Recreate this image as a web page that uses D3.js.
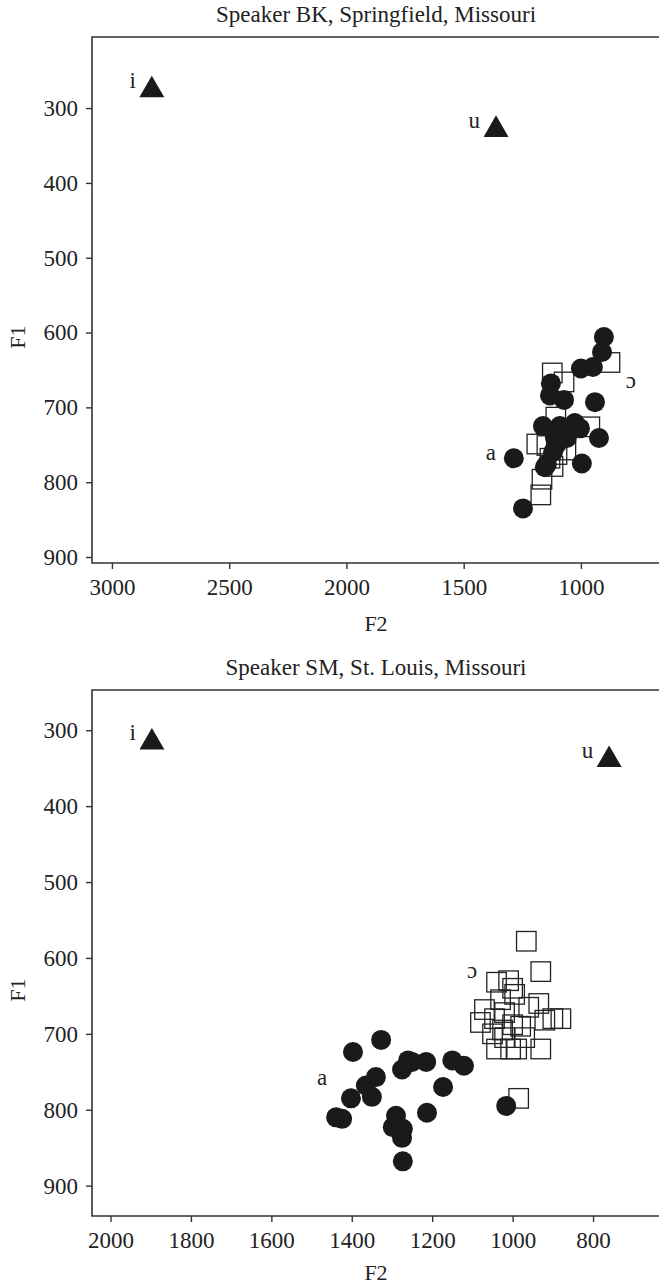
<!DOCTYPE html>
<html>
<head>
<meta charset="utf-8">
<script src="https://cdn.jsdelivr.net/npm/d3@7"></script>
<style>
  body { margin: 0; background: #fff; }
  svg text { font-family: "Liberation Serif", "DejaVu Serif", serif; fill: #222; }
</style>
</head>
<body>
<div id="chart"></div>
<script>
// ---- data (F2 Hz, F1 Hz) ----
const bkTriangles = [[2830, 276, "i"], [1362, 329, "u"]];
const bkCircles = [
  [902, 606], [910, 626], [1000, 648], [949, 646], [1128, 668], [1132, 684],
  [1072, 690], [940, 693], [1162, 725], [1090, 725], [1026, 721], [1004, 728],
  [1060, 741], [1111, 740], [923, 741], [1286, 768], [1119, 760], [1145, 776],
  [1154, 780], [996, 775], [1247, 835], [1105, 750]
];
const bkSquares = [
  [1122, 654], [1072, 666], [876, 640], [1107, 713], [962, 726], [1188, 749],
  [1145, 751], [1102, 763], [1119, 779], [1166, 796], [1171, 817], [1090, 737],
  [1064, 757], [1132, 768]
];
const bkLabels = [[1384, 760, "a"], [787, 664, "ɔ"]];

const smTriangles = [[1897, 316, "i"], [760, 339, "u"]];
const smCircles = [
  [1327, 708], [1397, 724], [1260, 735], [1250, 737], [1215, 737], [1173, 770],
  [1150, 735], [1121, 742], [1365, 768], [1340, 757], [1350, 783], [1402, 785],
  [1439, 810], [1424, 812], [1275, 747], [1290, 808], [1298, 823], [1273, 825],
  [1275, 837], [1273, 868], [1213, 804], [1016, 795]
];
const smSquares = [
  [966, 578], [930, 618], [1040, 632], [1010, 630], [995, 648], [1030, 655],
  [1070, 668], [1045, 680], [1020, 672], [1000, 688], [980, 690], [960, 665],
  [935, 660], [900, 680], [920, 682], [880, 680], [1005, 720], [1040, 720],
  [990, 720], [930, 720], [1080, 685], [1050, 700], [1020, 705], [970, 705],
  [985, 785], [1000, 640], [1025, 695]
];
const smLabels = [[1474, 757, "a"], [1101, 616, "ɔ"]];

const bkXTicks = [3000, 2500, 2000, 1500, 1000];
const smXTicks = [2000, 1800, 1600, 1400, 1200, 1000, 800];
const yTicks = [300, 400, 500, 600, 700, 800, 900];

const W = 659, H = 1286;
const svg = d3.select("#chart").append("svg")
  .attr("width", W).attr("height", H);

function panel(cfg) {
  const x = d3.scaleLinear().domain(cfg.xDomain).range([92, 659]);
  const y = d3.scaleLinear().domain(cfg.yDomain).range([cfg.top, cfg.bottom]);
  const g = svg.append("g");

  // title
  g.append("text")
    .attr("x", 376).attr("y", cfg.top - 15)
    .attr("text-anchor", "middle")
    .style("font-size", "23px")
    .text(cfg.title);

  // squares under circles
  const s = 19.5;
  g.selectAll(".sq").data(cfg.squares).enter().append("rect")
    .attr("x", d => x(d[0]) - s / 2)
    .attr("y", d => y(d[1]) - s / 2)
    .attr("width", s).attr("height", s)
    .attr("fill", "none")
    .attr("stroke", "#222")
    .attr("stroke-width", 1.3);

  g.selectAll(".ci").data(cfg.circles).enter().append("circle")
    .attr("cx", d => x(d[0]))
    .attr("cy", d => y(d[1]))
    .attr("r", 10)
    .attr("fill", "#1a1a1a");

  const tri = d3.symbol().type(d3.symbolTriangle).size(270);
  g.selectAll(".tr").data(cfg.triangles).enter().append("path")
    .attr("d", tri)
    .attr("transform", d => `translate(${x(d[0])},${y(d[1])})`)
    .attr("fill", "#1a1a1a");

  g.selectAll(".trl").data(cfg.triangles).enter().append("text")
    .attr("x", d => x(d[0]) - 16)
    .attr("y", d => y(d[1]) - 2)
    .attr("text-anchor", "end")
    .style("font-size", "23px")
    .text(d => d[2]);

  g.selectAll(".vl").data(cfg.labels).enter().append("text")
    .attr("x", d => x(d[0]))
    .attr("y", d => y(d[1]))
    .attr("dy", "0.35em")
    .attr("text-anchor", "middle")
    .style("font-size", "23px")
    .text(d => d[2]);

  // frame
  g.append("path")
    .attr("d", `M${W + 2},${cfg.top}H92V${cfg.bottom}H${W + 2}`)
    .attr("fill", "none")
    .attr("stroke", "#333")
    .attr("stroke-width", 1.6);

  // axes
  const ax = g.append("g")
    .attr("transform", `translate(0,${cfg.bottom})`)
    .call(d3.axisBottom(x).tickValues(cfg.xTicks).tickFormat(d3.format("d"))
      .tickSize(6).tickPadding(10).tickSizeOuter(0));
  const ay = g.append("g")
    .attr("transform", "translate(92,0)")
    .call(d3.axisLeft(y).tickValues(yTicks).tickFormat(d3.format("d"))
      .tickSize(6).tickPadding(8).tickSizeOuter(0));
  [ax, ay].forEach(a => {
    a.select(".domain").remove();
    a.selectAll("line").attr("stroke", "#333").attr("stroke-width", 1.4);
    a.selectAll("text")
      .style("font-family", '"Liberation Serif", serif')
      .style("font-size", "23px")
      .attr("fill", "#222");
  });

  g.append("text")
    .attr("x", 376).attr("y", cfg.bottom + cfg.f2Offset)
    .attr("text-anchor", "middle")
    .style("font-size", "22px")
    .text("F2");
  g.append("text")
    .attr("transform", `translate(25,${(cfg.top + cfg.bottom) / 2 + 37}) rotate(-90)`)
    .attr("text-anchor", "middle")
    .style("font-size", "22px")
    .text("F1");
}

panel({
  title: "Speaker BK, Springfield, Missouri",
  top: 37, bottom: 563, f2Offset: 68,
  xDomain: [3085, 667], yDomain: [205, 908],
  xTicks: bkXTicks,
  triangles: bkTriangles, circles: bkCircles, squares: bkSquares, labels: bkLabels
});

panel({
  title: "Speaker SM, St. Louis, Missouri",
  top: 690, bottom: 1216, f2Offset: 64,
  xDomain: [2046, 636], yDomain: [247, 940],
  xTicks: smXTicks,
  triangles: smTriangles, circles: smCircles, squares: smSquares, labels: smLabels
});
</script>
</body>
</html>
